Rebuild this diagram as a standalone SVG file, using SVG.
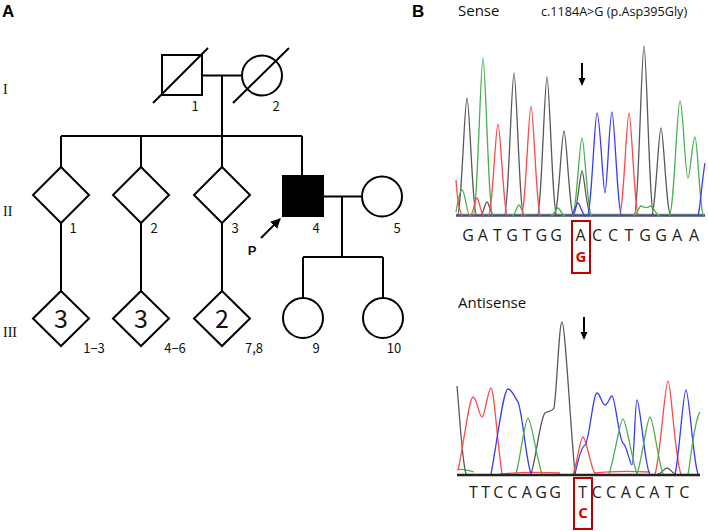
<svg xmlns="http://www.w3.org/2000/svg" width="708" height="531" viewBox="0 0 708 531">
<defs>
<marker id="ah" viewBox="0 0 10 10" refX="9" refY="5" markerWidth="5" markerHeight="5" orient="auto" markerUnits="strokeWidth">
<path d="M0,0 L10,5 L0,10 z" fill="#000"/>
</marker>
</defs>
<style>
.sym{fill:#fff;stroke:#000;stroke-width:2}
.aff{fill:#000;stroke:#000;stroke-width:2}
.ln{fill:none;stroke:#000;stroke-width:2}
.lbl{font-family:"Noto Sans CJK JP","Noto Sans",sans-serif;font-size:13px;fill:#111;text-anchor:middle}
.gen{font-family:"Liberation Serif",serif;font-size:14px;fill:#111}
.big{font-family:"Noto Sans CJK JP","Noto Sans",sans-serif;font-size:25px;fill:#111;text-anchor:middle}
.pan{font-family:"Liberation Sans",Arial,sans-serif;font-weight:bold;font-size:17px;fill:#000}
.ttl{font-family:"Open Sans","Noto Sans",sans-serif;font-size:15px;fill:#111}
.sub{font-family:"Open Sans","Noto Sans",sans-serif;font-size:12.6px;fill:#111}
.seq{font-family:"Open Sans","Noto Sans",sans-serif;font-size:16px;fill:#222;text-anchor:middle}
.mut{font-family:"Open Sans","Noto Sans",sans-serif;font-weight:bold;font-size:15px;fill:#e00000;text-anchor:middle}
.box{fill:none;stroke:#c00000;stroke-width:2}
.tr{fill:none;stroke-width:1.3;stroke-linejoin:round}
.k{stroke:#5a5a5a}.g{stroke:#4cb050}.r{stroke:#ff4a4a}.b{stroke:#3a3aff}
</style>

<text class="pan" x="2" y="17">A</text>
<text class="gen" x="3" y="94">I</text>
<text class="gen" x="3" y="216">II</text>
<text class="gen" x="3" y="337">III</text>

<g id="connectors">
<path class="ln" d="M202,75.5 H242 M222,75.5 V136 M61,136 H302 M61,136 V167 M141,136 V167 M222,136 V167 M302,136 V176"/>
<path class="ln" d="M323,196.5 H362 M342,196.5 V257 M303,257 H383 M303,257 V298 M383,257 V298"/>
<path class="ln" d="M61,223 V291 M141,223 V291 M222,223 V291"/>
</g>

<g id="I-1">
<rect class="sym" x="162" y="55" width="40" height="40"/>
<line class="ln" x1="153" y1="103" x2="208" y2="48"/>
<text class="lbl" x="195" y="111">1</text>
</g>
<g id="I-2">
<circle class="sym" cx="262" cy="75.5" r="20"/>
<line class="ln" x1="233" y1="103" x2="289" y2="48"/>
<text class="lbl" x="276" y="111">2</text>
</g>

<g id="II-1">
<polygon class="sym" points="61,167 89,195 61,223 33,195"/>
<text class="lbl" x="73" y="233">1</text>
</g>
<g id="II-2">
<polygon class="sym" points="141,167 169,195 141,223 113,195"/>
<text class="lbl" x="154" y="233">2</text>
</g>
<g id="II-3">
<polygon class="sym" points="222,167 250,195 222,223 194,195"/>
<text class="lbl" x="235" y="233">3</text>
</g>
<g id="II-4">
<rect class="aff" x="283" y="176" width="40" height="40"/>
<text class="lbl" x="316" y="233">4</text>
<line x1="261" y1="238" x2="280" y2="219" stroke="#000" stroke-width="2" marker-end="url(#ah)"/>
<text x="252" y="255" font-family="Liberation Sans, Arial, sans-serif" font-weight="bold" font-size="13" text-anchor="middle" fill="#111">P</text>
</g>
<g id="II-5">
<circle class="sym" cx="382" cy="196.5" r="20"/>
<text class="lbl" x="397" y="233">5</text>
</g>

<g id="III-1-3">
<polygon class="sym" points="61,291 89,318.5 61,346 33,318.5"/>
<text class="big" x="61" y="328">3</text>
<text class="lbl" x="94" y="353">1−3</text>
</g>
<g id="III-4-6">
<polygon class="sym" points="141,291 169,318.5 141,346 113,318.5"/>
<text class="big" x="141" y="328">3</text>
<text class="lbl" x="175" y="353">4−6</text>
</g>
<g id="III-7-8">
<polygon class="sym" points="222,291 250,318.5 222,346 194,318.5"/>
<text class="big" x="222" y="328">2</text>
<text class="lbl" x="254" y="353">7,8</text>
</g>
<g id="III-9">
<circle class="sym" cx="303" cy="318" r="20"/>
<text class="lbl" x="316" y="353">9</text>
</g>
<g id="III-10">
<circle class="sym" cx="383" cy="318" r="20"/>
<text class="lbl" x="394" y="353">10</text>
</g>

<!-- Panel B -->
<text class="pan" x="412" y="17">B</text>
<text class="ttl" x="458" y="16">Sense</text>
<text class="sub" x="541" y="16">c.1184A&gt;G (p.Asp395Gly)</text>

<g id="sense-trace">
<line x1="456" y1="216.5" x2="705" y2="216.5" stroke="#888" stroke-width="1"/>
<path class="tr r" d="M456,214.5 H705"/>
<path class="tr g" d="M456,215 H705"/>
<path class="tr b" d="M456,215.5 H705"/>
<path class="tr k" d="M457,216 C461.5,216 464.5,98 467,98 C469.5,98 472.5,216 477,216 M480,216 C483,216 485,202 487,202 C489,202 491,216 494,216 M504,216 C508.5,216 511.5,73 514,73 C516.5,73 519.5,216 524,216 M537,216 C541.5,216 544.5,77 547,77 C549.5,77 552.5,216 557,216 M554,216 C558.5,216 561.5,131 564,131 C566.5,131 569.5,216 574,216 M573,216 C577,216 580,171 582,171 C584,171 587,216 591,216 M634,216 C638.5,216 641.5,46 644,46 C646.5,46 649.5,216 654,216 M651,216 C655.5,216 658.5,128 661,128 C663.5,128 666.5,216 671,216"/>
<path class="tr g" d="M456,212 C458,200 460,190 462,190 C465,190 467,216 470,216 M473,216 C477.5,216 480.5,58 483,58 C485.5,58 488.5,216 493,216 M512,216 C515,216 517,205 519,205 C521,205 523,216 526,216 M551,216 C554,216 556,208 558,208 C560,208 562,216 565,216 M572,216 C576.5,216 579.5,138 582,138 C584.5,138 587.5,216 592,216 M633,216 C637,216 639,206 641,206 C643,206 646,210 650,206 C653,205 656,216 660,216 M669,216 C674,216 677,101 680,101 C683,101 685,178 688,178 C690,178 692.5,137 695,137 C697.5,137 700,216 704,216"/>
<path class="tr r" d="M456,180 C457,195 459,210 462,216 M470,216 C473,216 475,198 477,198 C479,198 481,216 484,216 M488,216 C492.5,216 495.5,124 498,124 C500.5,124 503.5,216 508,216 M521,216 C525.5,216 528.5,106 531,106 C533.5,106 536.5,216 541,216 M619,216 C623.5,216 626.5,113 629,113 C631.5,113 634.5,216 639,216"/>
<path class="tr b" d="M570,216 C574,216 576,203 578,203 C580,203 582,216 586,216 M587,216 C591.5,216 594.5,113 597,113 C600,113 603,193 605,193 C607,193 609.5,112 612,112 C614.5,112 617.5,216 622,216 M698,216 C700,210 702,180 705,163"/>
</g>

<g id="sense-arrow">
<line x1="582" y1="63" x2="582" y2="79" stroke="#000" stroke-width="2"/>
<path d="M578.5,78 L585.5,78 L582,86 z" fill="#000"/>
</g>

<text class="seq" x="468 482.7 497.3 512 526.7 541.3 556 580.5 597 613 629 645 661 677 694" y="241">GATGTGGACCTGGAA</text>
<rect class="box" x="572" y="221" width="18" height="52"/>
<text class="mut" x="581" y="262">G</text>

<text class="ttl" x="458" y="308">Antisense</text>

<g id="antisense-trace">
<path class="tr g" d="M457,470 C462,468 468,470 474,472"/>
<path class="tr r" d="M500,474 C520,472 540,472 560,473 M595,473 C610,471 630,471 650,472"/>
<path class="tr k" d="M457,386 C460,420 462,460 466,474 M531,474 C536,460 540,418 545,413 C549,410 552,412 554,408 C557,390 559,322 562,322 C565,322 570,420 575,474 M658,474 C662,474 664,468 667,468 C670,468 672,474 676,474"/>
<path class="tr r" d="M458,470 C463,450 469,397 473,397 C477,397 479,417 482,417 C485,417 488,388 491,388 C494,388 497,440 502,474 M573,474 C577,465 580,437 583,437 C586,437 590,465 595,474 M655,474 C660,460 665,381 668,381 C671,381 675,460 681,474"/>
<path class="tr b" d="M491,474 C496,450 503,389 508,389 C512,389 515,398 518,402 C522,410 526,460 531,474 M575,474 C578,460 581,447 585,445 C589,443 593,393 597,393 C600,393 602,405 605,405 C608,405 610,396 612,396 C615,396 619,440 623,443 C627,446 630,465 632,465 C634,465 635,400 637,400 C640,400 645,470 650,474 M675,474 C679,460 683,390 686,390 C689,390 693,460 698,474"/>
<path class="tr g" d="M516,474 C520,460 525,418 528,418 C531,418 537,460 542,474 M609,474 C614,460 620,419 623,419 C626,419 632,460 637,474 M637,474 C642,460 647,417 650,417 C653,417 658,460 663,474 M688,474 C691,460 694,420 700,412"/>
<line x1="457" y1="475" x2="700" y2="475" stroke="#222" stroke-width="2.5"/>
</g>

<g id="antisense-arrow">
<line x1="584" y1="317" x2="584" y2="333" stroke="#000" stroke-width="2"/>
<path d="M580.5,332 L587.5,332 L584,340 z" fill="#000"/>
</g>

<text class="seq" x="473.3 485.7 498.3 512.3 526.7 541 555 582.7 596.7 611 625.7 640 654.3 669.3 684.3" y="498">TTCCAGGTCCACATC</text>
<rect class="box" x="574" y="478" width="18" height="51"/>
<text class="mut" x="583" y="518">C</text>
</svg>
